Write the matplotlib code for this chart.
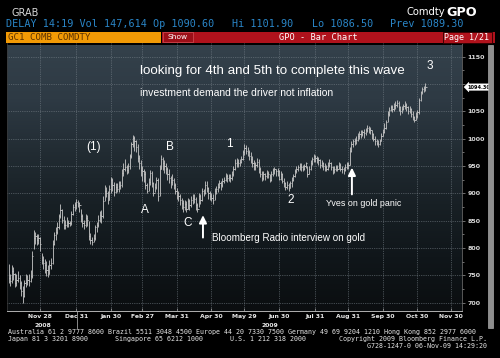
import numpy as np
import pandas as pd
import matplotlib
matplotlib.use('Agg')
import matplotlib.pyplot as plt
import matplotlib.transforms as mtransforms
from matplotlib.colors import LinearSegmentedColormap
from matplotlib.patches import Rectangle

# ---- data: GC1 daily bars, one row per week (Mon..Fri), first row is Fri Oct 31 2008
start_day = '2008-10-31'

bar_close = [
    745,
    740, 758, 752, 735, 742,
    745, 735, 722, 712, 735,
    738, 742, 740, 748, 785,
    818, 822, 815, 818, 808,
    778, 772, 768, 760, 752,
    768, 772, 808, 823, 830,
    838, 858, 870, 852, 842,
    842, 848, 845, 845, 862,
    875, 878, 884, 882, 878,
    858, 845, 842, 855, 852,
    822, 815, 810, 818, 838,
    842, 852, 860, 858, 885,
    905, 900, 888, 908, 925,
    915, 902, 912, 908, 914,
    915, 938, 945, 948, 942,
    950, 968, 990, 1002, 995,
    985, 965, 955, 942, 940,
    935, 915, 905, 920, 938,
    918, 900, 912, 925, 895,
    945, 962, 955, 950, 945,
    935, 928, 920, 925, 915,
    905, 900, 895, 888, 882,
    875, 880, 872, 885, 878,
    888, 892, 890, 878, 872,
    895, 888, 905, 900, 915,
    910, 900, 895, 892, 888,
    905, 908, 912, 918, 915,
    922, 925, 932, 928, 930,
    928, 935, 945, 955, 958,
    955, 958, 962, 975, 982,
    978, 975, 968, 962, 955,
    950, 952, 958, 945, 935,
    928, 935, 932, 938, 935,
    925, 935, 942, 945, 940,
    940, 927, 935, 922, 918,
    912, 915, 910, 918, 925,
    932, 940, 945, 948, 950,
    948, 945, 950, 955, 935,
    945, 955, 962, 968, 965,
    962, 960, 952, 955, 950,
    948, 945, 952, 955, 948,
    942, 945, 948, 945, 952,
    945, 945, 942, 948, 952,
    952, 978, 990, 995, 998,
    998, 1005, 1008, 1008, 1012,
    1010, 1015, 1020, 1018, 1015,
    1008, 1000, 995, 992, 990,
    995, 1005, 1012, 1020, 1030,
    1045, 1052, 1058, 1055, 1060,
    1062, 1065, 1058, 1050, 1055,
    1060, 1062, 1058, 1050, 1055,
    1045, 1040, 1035, 1042, 1048,
    1070, 1085, 1090, 1092, 1094.3,
]

bar_high = [
    770,
    752, 768, 765, 755, 752,
    758, 750, 740, 730, 742,
    752, 750, 752, 760, 795,
    832, 830, 826, 825, 820,
    790, 785, 780, 776, 768,
    778, 782, 815, 830, 838,
    848, 862, 880, 872, 858,
    852, 856, 852, 850, 868,
    880, 884, 889, 888, 884,
    872, 862, 852, 862, 860,
    850, 828, 820, 825, 842,
    848, 860, 868, 870, 895,
    916, 912, 905, 915, 930,
    928, 920, 918, 918, 922,
    922, 945, 955, 962, 952,
    955, 972, 994, 1006, 1005,
    998, 990, 970, 960, 950,
    945, 940, 918, 928, 942,
    940, 920, 918, 930, 928,
    952, 970, 966, 960, 955,
    948, 945, 932, 935, 928,
    918, 910, 905, 898, 892,
    888, 888, 885, 892, 890,
    895, 898, 898, 893, 882,
    900, 898, 910, 908, 922,
    922, 912, 905, 900, 898,
    910, 914, 918, 925, 922,
    928, 930, 938, 935, 936,
    935, 940, 950, 962, 965,
    962, 962, 968, 980, 990,
    988, 985, 980, 975, 968,
    960, 958, 965, 962, 948,
    940, 940, 938, 942, 940,
    935, 940, 946, 948, 945,
    946, 942, 940, 938, 928,
    920, 922, 918, 922, 930,
    936, 945, 950, 952, 955,
    955, 952, 954, 958, 950,
    950, 960, 966, 972, 970,
    968, 966, 962, 960, 958,
    955, 952, 958, 962, 958,
    950, 950, 952, 952, 958,
    955, 950, 948, 954, 958,
    958, 985, 995, 1000, 1002,
    1004, 1010, 1014, 1015, 1016,
    1018, 1020, 1025, 1024, 1022,
    1015, 1010, 1004, 1000, 998,
    1000, 1010, 1018, 1028, 1035,
    1050, 1058, 1062, 1062, 1065,
    1068, 1070, 1068, 1060, 1060,
    1064, 1068, 1066, 1060, 1060,
    1056, 1050, 1042, 1048, 1052,
    1075, 1088, 1094, 1096, 1101.9,
]

bar_low = [
    735,
    730, 735, 742, 728, 730,
    738, 725, 712, 700, 710,
    728, 732, 730, 738, 745,
    798, 808, 805, 808, 795,
    770, 762, 755, 748, 746,
    752, 762, 770, 805, 815,
    826, 835, 855, 845, 835,
    835, 838, 838, 840, 842,
    860, 868, 872, 875, 866,
    848, 838, 835, 838, 840,
    815, 808, 805, 810, 815,
    830, 838, 848, 845, 855,
    885, 893, 880, 888, 900,
    905, 895, 900, 902, 903,
    908, 912, 932, 940, 935,
    938, 945, 965, 985, 978,
    975, 958, 945, 932, 922,
    920, 908, 900, 905, 915,
    912, 895, 902, 908, 886,
    895, 945, 942, 938, 935,
    925, 918, 910, 915, 908,
    898, 890, 885, 878, 872,
    866, 870, 865, 872, 870,
    875, 880, 882, 870, 866,
    875, 880, 885, 895, 898,
    902, 890, 888, 885, 880,
    888, 898, 902, 910, 906,
    912, 918, 922, 920, 922,
    920, 925, 932, 942, 948,
    948, 950, 955, 960, 970,
    972, 968, 960, 955, 948,
    942, 942, 948, 938, 930,
    922, 925, 925, 928, 928,
    920, 922, 932, 936, 932,
    932, 925, 925, 918, 912,
    906, 908, 905, 910, 912,
    922, 930, 938, 940, 942,
    940, 940, 942, 946, 930,
    935, 942, 952, 958, 958,
    955, 952, 946, 948, 942,
    940, 940, 942, 948, 942,
    935, 938, 940, 940, 944,
    940, 938, 936, 940, 944,
    944, 952, 975, 985, 988,
    990, 995, 1000, 1002, 1004,
    1002, 1006, 1012, 1010, 1008,
    1000, 995, 989, 988, 985,
    988, 995, 1004, 1010, 1018,
    1030, 1042, 1050, 1048, 1050,
    1055, 1058, 1050, 1044, 1046,
    1052, 1055, 1050, 1045, 1047,
    1040, 1035, 1031, 1034, 1038,
    1045, 1068, 1082, 1085, 1086.5,
]

tick_dates = ['2008-11-28', '2008-12-31', '2009-01-30', '2009-02-27', '2009-03-31',
              '2009-04-30', '2009-05-29', '2009-06-30', '2009-07-31', '2009-08-31',
              '2009-09-30', '2009-10-30', '2009-11-30']
tick_labels = ['Nov 28', 'Dec 31', 'Jan 30', 'Feb 27', 'Mar 31', 'Apr 30', 'May 29',
               'Jun 30', 'Jul 31', 'Aug 31', 'Sep 30', 'Oct 30', 'Nov 30']
y_ticks = [700, 750, 800, 850, 900, 950, 1000, 1050, 1100, 1150]
last_price = 1094.30

# wave counts: (text, day index, price)
wave_labels = [('(1)', 54, 984), ('A', 87, 870), ('B', 102.5, 985), ('C', 114, 845),
               ('1', 140.5, 991), ('2', 179.5, 887), ('3', 268, 1132)]

# ---- layout helpers (pixel -> figure fraction)
W, H = 500, 358
def fx(x):
    return x / W
def fy(y):
    return 1 - y / H

days = pd.bdate_range(start_day, '2009-12-31')
idx = np.arange(len(bar_close))
tick_pos = days.get_indexer(pd.to_datetime(tick_dates))
x_min, x_max = -1.0, 288.3
y_min, y_max = 684.6, 1170

fig = plt.figure(figsize=(5, 3.58), dpi=100, facecolor='black')
ax = fig.add_axes([fx(7), fy(311), 455 / W, 268 / H])
ax.set_facecolor('black')

# background gradient of the chart panel
bg = LinearSegmentedColormap.from_list('bg', ['#0b0e10', '#10161a', '#182025', '#222c33', '#2e3a44', '#34414b'])
grad = np.linspace(0, 1, 256).reshape(-1, 1)
ax.imshow(grad, extent=[x_min, x_max, y_min, y_max], origin='lower', aspect='auto',
          cmap=bg, zorder=0)

# dotted grid
for y in y_ticks:
    ax.axhline(y, color='#7a848c', lw=0.5, ls=(0, (1, 1.6)), zorder=1)
for p in tick_pos:
    ax.axvline(p, color='#7a848c', lw=0.5, ls=(0, (1, 1.6)), zorder=1)

# the bars
ax.vlines(idx, bar_low, bar_high, color='#c8c8c8', lw=0.6, zorder=3)
ax.hlines(bar_close, idx, idx + 0.8, color='#c8c8c8', lw=0.6, zorder=3)

ax.set_xlim(x_min, x_max)
ax.set_ylim(y_min, y_max)

# axes styling
ax.yaxis.tick_right()
ax.set_yticks(y_ticks)
ax.set_yticks([y + 25 for y in y_ticks], minor=True)
# the last-price flag sits where the 1100 label would be
ax.set_yticklabels(['' if y == 1100 else str(y) for y in y_ticks])
ax.tick_params(axis='y', which='major', labelsize=4.6, labelcolor='#d8d8d8', color='#9a9a9a',
               length=2.5, width=0.5, pad=1.2)
ax.tick_params(axis='y', which='minor', color='#9a9a9a', length=1.5, width=0.5)
for lab in ax.get_yticklabels():
    lab.set_fontweight('bold')
ax.set_xticks(tick_pos)
ax.set_xticklabels(tick_labels)
ax.tick_params(axis='x', labelsize=4.4, labelcolor='#e8e8e8', color='#a0a0a0', length=2,
               width=0.5, direction='in', pad=2.5)
for lab in ax.get_xticklabels():
    lab.set_fontweight('bold')
ax.spines['top'].set_visible(False)
ax.spines['bottom'].set_color('#b0b0b0')
ax.spines['bottom'].set_linewidth(0.7)
ax.spines['right'].set_color('#7a7a7a')
ax.spines['right'].set_linewidth(0.5)
ax.spines['left'].set_color('#3a3a3a')
ax.spines['left'].set_linewidth(0.5)

# year labels under the date axis
tb = mtransforms.blended_transform_factory(ax.transData, ax.transAxes)
jan1 = days.get_indexer(pd.to_datetime(['2009-01-01']))[0]
ax.text((x_min + jan1) / 2, -0.045, '2008', transform=tb, ha='center', va='top',
        fontsize=4.4, fontweight='bold', color='#e8e8e8', clip_on=False)
ax.text((jan1 + x_max) / 2, -0.045, '2009', transform=tb, ha='center', va='top',
        fontsize=4.4, fontweight='bold', color='#e8e8e8', clip_on=False)
ax.plot([jan1 - 0.5, jan1 - 0.5], [0, -0.065], transform=tb, color='#a0a0a0', lw=0.6, clip_on=False)

# last price flag
tr = mtransforms.blended_transform_factory(ax.transAxes, ax.transData)
ax.text(1.012, last_price, '%.2f' % last_price, transform=tr, ha='left', va='center',
        fontsize=3.6, fontweight='bold', color='black', clip_on=False, zorder=10,
        bbox=dict(boxstyle='larrow,pad=0.15', fc='white', ec='white', lw=0.3))

# commentary
txt = dict(color='white', family='Liberation Sans', zorder=6)
ax.text(83.5, 1123, 'looking for 4th and 5th to complete this wave', fontsize=9.6,
        va='center', ha='left', **txt)
ax.text(83.5, 1083, 'investment demand the driver not inflation', fontsize=7.5,
        va='center', ha='left', **txt)
for s, xi, yv in wave_labels:
    ax.text(xi, yv, s, fontsize=8.5, ha='center', va='center', **txt)
ax.text(226, 882, 'Yves on gold panic', fontsize=6.4, ha='center', va='center', **txt)
ax.text(129.3, 819, 'Bloomberg Radio interview on gold', fontsize=7.1, ha='left', va='center', **txt)
arrow = dict(arrowstyle='-|>,head_width=0.22,head_length=0.45', color='white', lw=1.4,
             shrinkA=0, shrinkB=0)
ax.annotate('', xy=(123.6, 860), xytext=(123.6, 819), arrowprops=arrow, zorder=6)
ax.annotate('', xy=(218.3, 947), xytext=(218.3, 898), arrowprops=arrow, zorder=6)

# ---- terminal header
mono = 'DejaVu Sans Mono'
fig.text(fx(12), fy(12.5), 'GRAB', fontsize=7, color='#d8d8d8', va='center', ha='left')
fig.text(fx(445), fy(12), 'Comdty', fontsize=7.2, color='white', va='center', ha='right')
fig.text(fx(446), fy(12), 'GPO', fontsize=9.2, color='white', va='center', ha='left',
         fontweight='bold')
blue = '#2a86c8'
fig.text(fx(6), fy(24), 'DELAY 14:19 Vol 147,614 Op 1090.60', family=mono, fontsize=7.3,
         color=blue, va='center', ha='left')
fig.text(fx(232), fy(24), 'Hi 1101.90', family=mono, fontsize=7.3, color=blue, va='center')
fig.text(fx(312), fy(24), 'Lo 1086.50', family=mono, fontsize=7.3, color=blue, va='center')
fig.text(fx(390), fy(24), 'Prev 1089.30', family=mono, fontsize=7.3, color=blue, va='center')

fig.patches.append(Rectangle((fx(6), fy(43)), fx(155), 11 / H, transform=fig.transFigure,
                             fc='#f29a05', ec='none'))
fig.patches.append(Rectangle((fx(162), fy(43)), fx(333), 11 / H, transform=fig.transFigure,
                             fc='#b0121c', ec='none'))
fig.patches.append(Rectangle((fx(163), fy(42)), fx(30), 9.5 / H, transform=fig.transFigure,
                             fc='#9c0f18', ec='#e06068', lw=0.4))
fig.patches.append(Rectangle((fx(443), fy(43)), fx(49), 11 / H, transform=fig.transFigure,
                             fc='#b0121c', ec='#2a0000', lw=0.6))
fig.text(fx(8), fy(37.5), 'GC1 COMB COMDTY', family=mono, fontsize=6.6, color='#5a3000',
         va='center', ha='left')
fig.text(fx(178), fy(37.3), 'Show', fontsize=5.4, color='white', va='center', ha='center')
fig.text(fx(318), fy(37.5), 'GPO - Bar Chart', family=mono, fontsize=6.2, color='white',
         va='center', ha='center')
fig.text(fx(467), fy(37.5), 'Page 1/21', family=mono, fontsize=6.0, color='white',
         va='center', ha='center')

# scroll bar on the right
fig.patches.append(Rectangle((fx(488), fy(328)), fx(5), 283 / H, transform=fig.transFigure,
                             fc='#8e8e8e', ec='#c0c0c0', lw=0.4))

# ---- footer
foot = dict(family=mono, fontsize=4.75, color='#e6e6e6', va='center')
fig.text(fx(8), fy(332), 'Australia 61 2 9777 8600 Brazil 5511 3048 4500 Europe 44 20 7330 7500 '
         'Germany 49 69 9204 1210 Hong Kong 852 2977 6000', ha='left', **foot)
fig.text(fx(8), fy(339), 'Japan 81 3 3201 8900', ha='left', **foot)
fig.text(fx(115), fy(339), 'Singapore 65 6212 1000', ha='left', **foot)
fig.text(fx(230), fy(339), 'U.S. 1 212 318 2000', ha='left', **foot)
fig.text(fx(487), fy(339), 'Copyright 2009 Bloomberg Finance L.P.', ha='right', **foot)
fig.text(fx(487), fy(346), 'G728-1247-0 06-Nov-09 14:29:20', ha='right', **foot)

fig.savefig('out.png', dpi=100, facecolor='black')
